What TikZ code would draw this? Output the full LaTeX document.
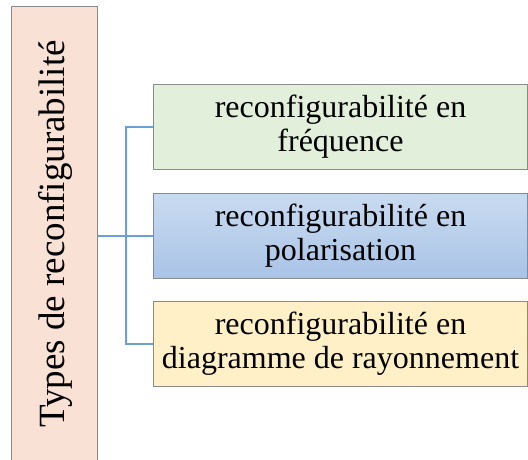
\documentclass[tikz,border=0pt]{standalone}
\usepackage{fontspec}
\setmainfont{Liberation Serif}
\definecolor{pinkfill}{HTML}{F9E1D5}
\definecolor{greenfill}{HTML}{E2EFDA}
\definecolor{bluetop}{HTML}{C9DBF0}
\definecolor{bluebot}{HTML}{A9C3E6}
\definecolor{yellowfill}{HTML}{FFF0C8}
\definecolor{edgegray}{HTML}{8A8A8A}
\definecolor{linkblue}{HTML}{6A9FD8}
\tikzset{
  catbox/.style={draw=edgegray, line width=1pt, minimum width=374pt, minimum height=85pt,
    align=center, font=\fontsize{32}{34}\selectfont, inner sep=0pt},
  link/.style={draw=linkblue, line width=2pt},
}
\begin{document}
\begin{tikzpicture}[x=1pt,y=-1pt]
\useasboundingbox (0,0) rectangle (528,459);
% root box, running off the bottom edge
\begin{scope}
\clip (0,0) rectangle (528,459);
\node[draw=edgegray, fill=pinkfill, line width=1pt, minimum width=86pt, minimum height=470pt,
  anchor=north west, inner sep=0pt] (root) at (11,6) {};
\end{scope}
\node[rotate=90, font=\fontsize{37}{39}\selectfont] (roottext) at (55,234) {Types de reconfigurabilité};
% category boxes
\node[catbox, fill=greenfill, anchor=north west] (freq) at (153,84) {reconfigurabilité en\\fréquence};
\node[catbox, top color=bluetop, bottom color=bluebot, anchor=north west] (pol) at (153,193) {reconfigurabilité en\\polarisation};
\node[catbox, fill=yellowfill, anchor=north west] (diag) at (153,301) {reconfigurabilité en\\diagramme de rayonnement};
% connectors
\coordinate (rootend) at (root.east |- pol.west);
\coordinate (fork) at (126,0 |- pol.west);
\draw[link] (rootend) -- (pol.west);
\draw[link] (freq.west) -| (fork) |- (diag.west);
\end{tikzpicture}
\end{document}
